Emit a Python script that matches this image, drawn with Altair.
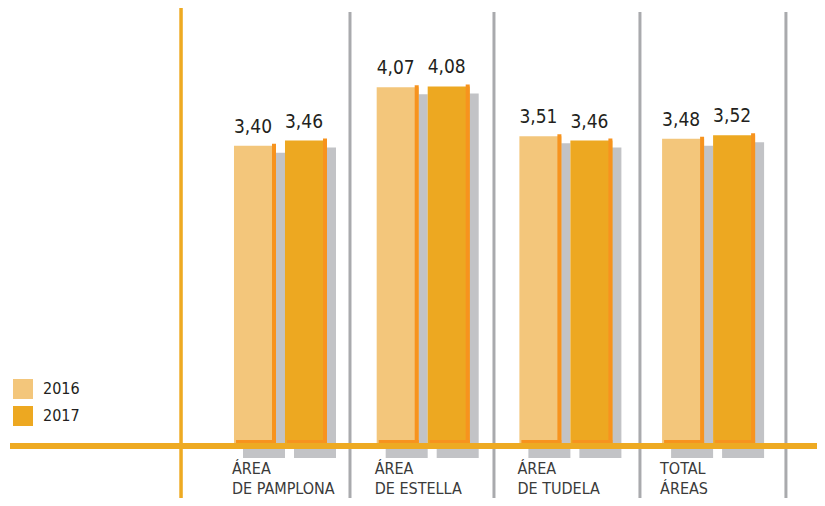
import altair as alt
import pandas as pd

# ---- data ----
categories = ["ÁREA\nDE PAMPLONA", "ÁREA\nDE ESTELLA", "ÁREA\nDE TUDELA", "TOTAL\nÁREAS"]
years = ["2016", "2017"]
values_2016 = [3.40, 4.07, 3.51, 3.48]
values_2017 = [3.46, 4.08, 3.46, 3.52]

# ---- layout (in x-scale index units) ----
W, H = 809, 490
X_DOMAIN = [-1.9096, 3.7597]
Y_DOMAIN = [-0.629, 4.977]
GROUP_OFFSET = 0.1787
HALF_BAR = 0.1472
LABEL_SHIFT = -0.34
dividers = [0.487, 1.496, 2.519, 3.542]
axis_pos = -0.697
baseline_pos = -0.035

LIGHT = "#f3c67b"
DARK = "#eda821"
STRIPE = "#f7931e"
LINE_ORANGE = "#eeaa22"
GRAY_LINE = "#a9aaad"
SHADOW = "#c2c3c6"
FONT = "DejaVu Sans Condensed, Liberation Sans Narrow, Roboto, sans-serif"

rows = []
for i, cat in enumerate(categories):
    for year, vals, sign in (("2016", values_2016, -1), ("2017", values_2017, 1)):
        v = vals[i]
        c = i + sign * GROUP_OFFSET
        rows.append(dict(cat=cat, idx=i, year=year, value=v, zero=0.0, center=c,
                         left=c - HALF_BAR, right=c + HALF_BAR,
                         label=f"{v:.2f}".replace(".", ",")))
df = pd.DataFrame(rows)
cat_df = pd.DataFrame({"cat": categories, "zero": 0.0,
                       "pos": [i + LABEL_SHIFT for i in range(len(categories))]})
div_df = pd.DataFrame({"d": dividers})
axis_df = pd.DataFrame({"a": [axis_pos]})
base_df = pd.DataFrame({"b": [baseline_pos]})

xs = alt.Scale(domain=X_DOMAIN, nice=False, zero=False)
ys = alt.Scale(domain=Y_DOMAIN, nice=False, zero=False)

base = alt.Chart(df)

div_layer = alt.Chart(div_df).mark_rule(color=GRAY_LINE, strokeWidth=3).encode(
    x=alt.X("d:Q", scale=xs, axis=None), y=alt.value(4), y2=alt.value(H))
axis_layer = alt.Chart(axis_df).mark_rule(color=LINE_ORANGE, strokeWidth=3.5).encode(
    x=alt.X("a:Q", scale=xs, axis=None), y=alt.value(0), y2=alt.value(H))

shadow = base.mark_rect(color=SHADOW, xOffset=9, x2Offset=9, yOffset=7, y2Offset=15).encode(
    x=alt.X("left:Q", scale=xs, axis=None), x2="right:Q",
    y=alt.Y("value:Q", scale=ys, axis=None), y2="zero:Q")

bars = base.mark_rect().encode(
    x=alt.X("left:Q", scale=xs, axis=None), x2="right:Q",
    y=alt.Y("value:Q", scale=ys, axis=None), y2="zero:Q",
    color=alt.Color("year:N", scale=alt.Scale(domain=years, range=[LIGHT, DARK]),
                    legend=alt.Legend(title=None, orient="none", legendX=5, legendY=371,
                                      symbolType="square", symbolSize=400, symbolStrokeWidth=0,
                                      labelFont=FONT, labelFontSize=16, labelColor="#231f20",
                                      labelOffset=10, rowPadding=7, padding=0)))

stripe_r = base.mark_rect(color=STRIPE, xOffset=-4, yOffset=-2).encode(
    x=alt.X("right:Q", scale=xs, axis=None), x2="right:Q",
    y=alt.Y("value:Q", scale=ys, axis=None), y2="zero:Q")

stripe_b = base.mark_rect(color=STRIPE, xOffset=2, yOffset=-3).encode(
    x=alt.X("left:Q", scale=xs, axis=None), x2="right:Q",
    y=alt.Y("zero:Q", scale=ys, axis=None), y2="zero:Q")

baseline = alt.Chart(base_df).mark_rule(color=LINE_ORANGE, strokeWidth=6).encode(
    y=alt.Y("b:Q", scale=ys, axis=None), x=alt.value(2), x2=alt.value(W))

values_text = base.mark_text(font=FONT, fontSize=19, color="#231f20", baseline="bottom", dy=-9, dx=-2).encode(
    x=alt.X("center:Q", scale=xs, axis=None), y=alt.Y("value:Q", scale=ys, axis=None), text="label:N")

cat_text = alt.Chart(cat_df).mark_text(font=FONT, fontSize=16, color="#3a3a3a", align="left",
                                       baseline="top", lineBreak="\n", dy=18, lineHeight=20).encode(
    x=alt.X("pos:Q", scale=xs, axis=None), y=alt.Y("zero:Q", scale=ys, axis=None), text="cat:N")

chart = alt.layer(div_layer, axis_layer, shadow, bars, stripe_r, stripe_b, baseline,
                  values_text, cat_text).properties(
    width=W, height=H, autosize=alt.AutoSizeParams(type="none"), padding=0
).configure_view(stroke=None)

chart.save("out.html", embed_options={"renderer": "svg", "actions": False})
